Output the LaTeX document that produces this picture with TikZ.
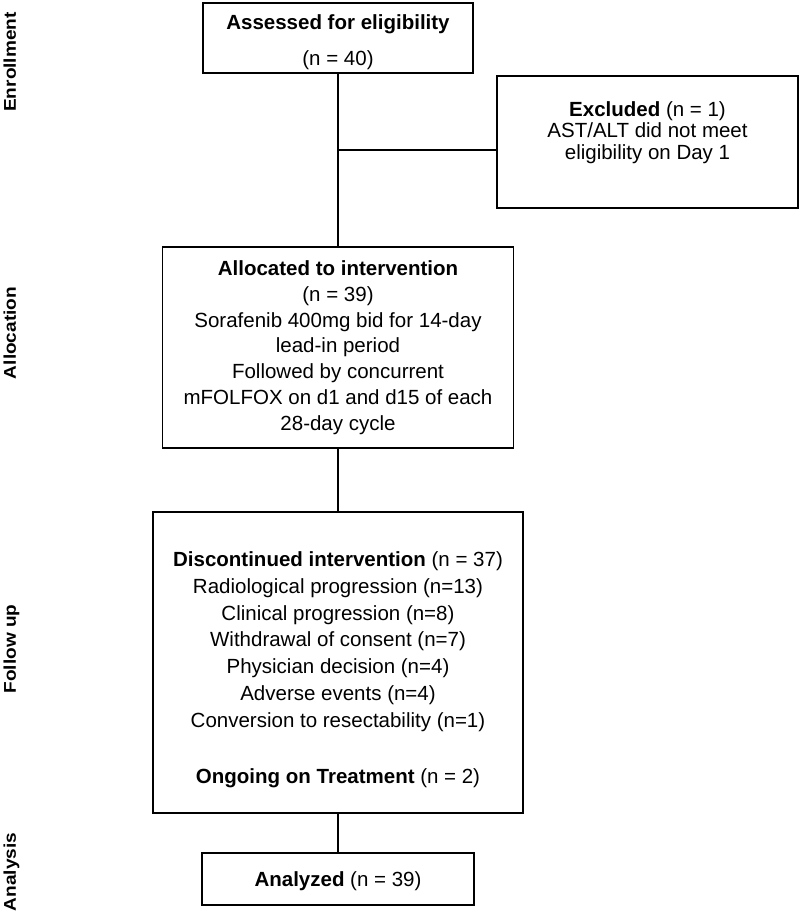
\documentclass[tikz,border=0pt]{standalone}
\usepackage{fontspec}
\setmainfont{Liberation Sans}
\usepackage{graphicx}
\begin{document}
\begin{tikzpicture}[x=1pt,y=-1pt,
  box/.style={draw, line width=1.3pt, inner sep=0pt},
  txt/.style={align=center, inner sep=0pt},
  phase/.style={rotate=90, anchor=base, inner sep=0pt, font=\bfseries\fontsize{17}{17}\selectfont},
  conn/.style={line width=1.3pt}]
\useasboundingbox (0,0) rectangle (800,917);
\fill[white] (0,0) rectangle (800,917);

% phase labels
\node[phase] (lenroll) at (16,62) {\scalebox{1.12}[1]{Enrollment}};
\node[phase] (lalloc) at (16,333) {\scalebox{1.12}[1]{Allocation}};
\node[phase] (lfollow) at (16,649) {\scalebox{1.12}[1]{Follow up}};
\node[phase] (lanaly) at (16,872) {\scalebox{1.12}[1]{Analysis}};

% boxes
\node[box, minimum width=270, minimum height=70] (assess) at (338,38) {};
\node[box, minimum width=301, minimum height=132] (excl) at (647.5,142) {};
\node[box, minimum width=351, minimum height=201] (alloc) at (338,347.5) {};
\node[box, minimum width=370, minimum height=301] (follow) at (338,662.5) {};
\node[box, minimum width=272, minimum height=52] (analy) at (338,879) {};

% texts
\node[txt, font=\fontsize{20.5}{35.5}\selectfont] (assessT) at (338,42)
  {\textbf{Assessed for eligibility}\\(n = 40)};
\node[txt, font=\fontsize{20.5}{21.5}\selectfont] (exclT) at (647.5,132.5)
  {\textbf{Excluded} (n = 1)\\AST/ALT did not meet\\eligibility on Day 1};
\node[txt, font=\fontsize{20.5}{25.8}\selectfont] (allocT) at (338,347.5)
  {\textbf{Allocated to intervention}\\(n = 39)\\Sorafenib 400mg bid for 14-day\\lead-in period\\Followed by concurrent\\mFOLFOX on d1 and d15 of each\\28-day cycle};
\node[txt, font=\fontsize{20.5}{26.7}\selectfont] (followT) at (338,670)
  {\textbf{Discontinued intervention} (n = 37)\\Radiological progression (n=13)\\Clinical progression (n=8)\\Withdrawal of consent (n=7)\\Physician decision (n=4)\\Adverse events (n=4)\\Conversion to resectability (n=1)\\[30pt]\textbf{Ongoing on Treatment} (n = 2)};
\node[txt, font=\fontsize{20.5}{24}\selectfont] (analyT) at (338,881)
  {\textbf{Analyzed} (n = 39)};

% connectors
\coordinate (j) at (338,150);
\draw[conn] (assess.south) -- (alloc.north);
\draw[conn] (j) -- (excl.west |- j);
\draw[conn] (alloc.south) -- (follow.north);
\draw[conn] (follow.south) -- (analy.north);
\end{tikzpicture}
\end{document}
